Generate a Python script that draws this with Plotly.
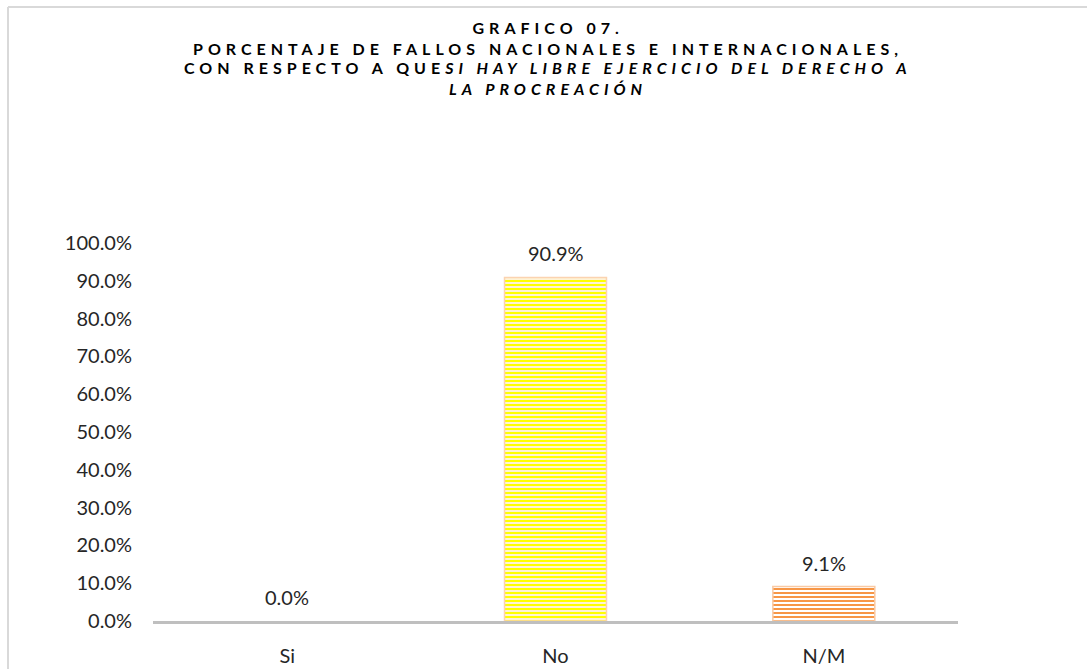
import plotly.graph_objects as go

categories = ["Si", "No", "N/M"]
values = [0.0, 90.9, 9.1]
value_labels = ["0.0%", "90.9%", "9.1%"]
tick_vals = [0, 10, 20, 30, 40, 50, 60, 70, 80, 90, 100]
tick_text = ["0.0%", "10.0%", "20.0%", "30.0%", "40.0%", "50.0%", "60.0%", "70.0%", "80.0%", "90.0%", "100.0%"]
title_lines = [
    "<b>GRAFICO 07.</b>",
    "<b>PORCENTAJE DE FALLOS NACIONALES E INTERNACIONALES,</b>",
    "<b>CON RESPECTO A QUE<i>SI HAY LIBRE EJERCICIO DEL DERECHO A</i></b>",
    "<b><i>LA PROCREACIÓN</i></b>",
]

fg_colors = ["#F79646", "#FFFF00", "#F79646"]
bg_colors = ["#FFFFFF", "#FFF3D6", "#FFFFFF"]
line_colors = ["#F9C9A3", "#FBD3B0", "#F9C9A3"]

FONT = "Lato"
TXT = "#262626"

fig = go.Figure()
for c, v, fg, bg, lc in zip(categories, values, fg_colors, bg_colors, line_colors):
    fig.add_trace(go.Bar(
        x=[c], y=[v], width=0.38,
        marker=dict(
            color=bg,
            line=dict(color=lc, width=1.5 if v > 0 else 0),
            pattern=dict(shape="-", fgcolor=fg, bgcolor=bg, size=4, solidity=0.5, fillmode="replace"),
        ),
        hoverinfo="skip",
    ))

annotations = []
title_y = [28, 48, 68, 88]
for i, (t, yy) in enumerate(zip(title_lines, title_y)):
    annotations.append(dict(
        text=t, xref="paper", yref="paper", x=(548 - 153) / (958 - 153), y=1 + (243 - yy) / (621 - 243),
        xanchor="center", yanchor="middle", showarrow=False,
        font=dict(family=FONT, size=16, color="#000000"),
    ))
for c, v, lab in zip(categories, values, value_labels):
    annotations.append(dict(
        text=lab, x=c, y=v, xref="x", yref="y", showarrow=False,
        yanchor="middle", yshift=24, font=dict(family=FONT, size=20, color=TXT),
    ))

fig.update_layout(
    width=1087, height=669,
    margin=dict(l=153, r=129, t=243, b=48, autoexpand=False),
    paper_bgcolor="white", plot_bgcolor="white",
    showlegend=False,
    barmode="overlay",
    annotations=annotations,
    xaxis=dict(
        showline=True, linecolor="#BFBFBF", linewidth=3, showgrid=False, zeroline=False, automargin=False,
        ticks="", tickfont=dict(family=FONT, size=20, color=TXT), ticklabelstandoff=15,
    ),
    yaxis=dict(
        range=[0, 100], tickvals=tick_vals, ticktext=tick_text, showgrid=False, zeroline=False, automargin=False,
        showline=False, ticks="", tickfont=dict(family=FONT, size=20, color=TXT), ticklabelstandoff=20,
    ),
    shapes=[
        dict(type="line", xref="paper", yref="paper", x0=(8 - 153) / 805, x1=(1087 - 153) / 805,
             y0=1 + (243 - 7) / 378, y1=1 + (243 - 7) / 378, line=dict(color="#D9D9D9", width=2)),
        dict(type="line", xref="paper", yref="paper", x0=(8 - 153) / 805, x1=(8 - 153) / 805,
             y0=1 + (243 - 7) / 378, y1=-48 / 378, line=dict(color="#D9D9D9", width=2)),
    ],
)

post = """
document.body.style.margin = '0';
var gd = document.getElementById('{plot_id}');
function spacing(){
  for (var i = 0; i < 4; i++) {
    var g = gd.querySelectorAll('g.annotation[data-index="' + i + '"] text');
    g.forEach(function(t){ t.style.letterSpacing = '5px'; });
  }
}
spacing();
gd.on('plotly_afterplot', spacing);
"""
fig.write_html("out.html", post_script=post, config={"displayModeBar": False})
